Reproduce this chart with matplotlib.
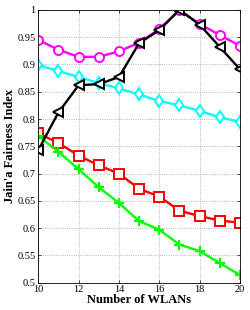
import matplotlib
matplotlib.use("Agg")
import matplotlib.pyplot as plt

# Número de WLANs
wlans = [10, 11, 12, 13, 14, 15, 16, 17, 18, 19, 20]

# Séries
magenta = [0.945, 0.927, 0.914, 0.914, 0.924, 0.940, 0.965, 1.0, 0.974, 0.954, 0.934]
cyan = [0.899, 0.888, 0.877, 0.866, 0.856, 0.845, 0.833, 0.825, 0.815, 0.803, 0.795]
red = [0.774, 0.756, 0.733, 0.715, 0.700, 0.672, 0.658, 0.632, 0.622, 0.614, 0.610]
green = [0.769, 0.740, 0.708, 0.675, 0.646, 0.613, 0.597, 0.570, 0.558, 0.536, 0.514]
black = [0.743, 0.812, 0.862, 0.864, 0.877, 0.939, 0.963, 1.0, 0.973, 0.932, 0.891]

xticks = [10, 12, 14, 16, 18, 20]
yticks = [0.5, 0.55, 0.6, 0.65, 0.7, 0.75, 0.8, 0.85, 0.9, 0.95, 1.0]
yticklabels = ["0.5", "0.55", "0.6", "0.65", "0.7", "0.75", "0.8", "0.85", "0.9", "0.95", "1"]

plt.rcParams["font.family"] = "Liberation Serif"

fig = plt.figure(figsize=(2.5, 3.1), dpi=100)
ax = fig.add_axes([0.153, 0.088, 0.807, 0.880])

style = dict(linewidth=1.7, markersize=6.5, markeredgewidth=1.4, markerfacecolor="white")
ax.plot(wlans, magenta, color="#ff00ff", marker="o", **style)
ax.plot(wlans, cyan, color="#00ffff", marker="d", **style)
ax.plot(wlans, red, color="#ff0000", marker="s", **style)
ax.plot(wlans, green, color="#00ff00", marker="+", linewidth=1.7, markersize=7, markeredgewidth=1.6)
ax.plot(wlans, black, color="black", marker="<", **style)

ax.set_xlim(10, 20)
ax.set_ylim(0.5, 1.0)
ax.set_xticks(xticks)
ax.set_yticks(yticks)
ax.set_yticklabels(yticklabels)
ax.tick_params(labelsize=7.5, direction="in", length=2, width=0.5, pad=2, top=True, right=True)
ax.grid(True, linestyle=":", linewidth=0.6, color="#a0a0a0")
for s in ax.spines.values():
    s.set_linewidth(0.6)

ax.set_xlabel("Number of WLANs", fontsize=9, fontweight="bold", labelpad=0)
ax.set_ylabel("Jain'a Fairness Index", fontsize=9, fontweight="bold", labelpad=1)

fig.savefig("out.png", dpi=100)
